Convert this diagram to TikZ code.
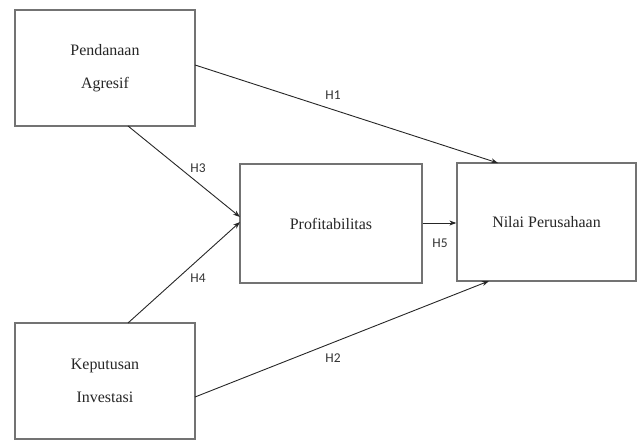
\documentclass[tikz,border=0pt]{standalone}
\usepackage{fontspec}
\setmainfont{Liberation Serif}
\newfontfamily\labfont{Carlito}
\usetikzlibrary{arrows.meta}
\begin{document}
\begin{tikzpicture}[x=1bp,y=-1bp,
  varbox/.style={draw=black!55,line width=1.3bp,fill=white,inner sep=0pt,font=\fontsize{16}{33}\selectfont,align=center,text=black!85},
  conn/.style={draw=black!85,line width=0.9bp,-{Stealth[length=7bp,width=5bp]}},
  hlab/.style={font=\labfont\fontsize{13.5}{15}\selectfont,text=black!80,inner sep=1bp}]
\useasboundingbox (0,0) rectangle (639,441);
\node[varbox,minimum width=180bp,minimum height=116bp] (pa) at (105,68) {Pendanaan\\Agresif};
\node[varbox,minimum width=180bp,minimum height=116bp] (ki) at (105,381) {Keputusan\\Investasi};
\node[varbox,minimum width=182bp,minimum height=119bp] (pr) at (331,223.5) {Profitabilitas};
\node[varbox,minimum width=179bp,minimum height=118bp] (np) at (546.5,222) {Nilai Perusahaan};
\coordinate (pa1) at (195,65);
\coordinate (pa2) at (128,126);
\coordinate (ki1) at (128,323);
\coordinate (ki2) at (195,397);
\coordinate (np1) at (498,163);
\coordinate (np2) at (489,281);
\coordinate (pr1) at (240,217);
\coordinate (pr2) at (240,222);
\draw[conn] (pa1) -- (np1);
\draw[conn] (pa2) -- (pr1);
\draw[conn] (ki1) -- (pr2);
\draw[conn] (ki2) -- (np2);
\draw[conn] (pr.east |- 0,223) -- (np.west |- 0,223);
\node[hlab] (h1) at (333,95) {H1};
\node[hlab] (h3) at (198,168) {H3};
\node[hlab] (h4) at (198,278) {H4};
\node[hlab] (h5) at (440,243) {H5};
\node[hlab] (h2) at (333,358) {H2};
\end{tikzpicture}
\end{document}
